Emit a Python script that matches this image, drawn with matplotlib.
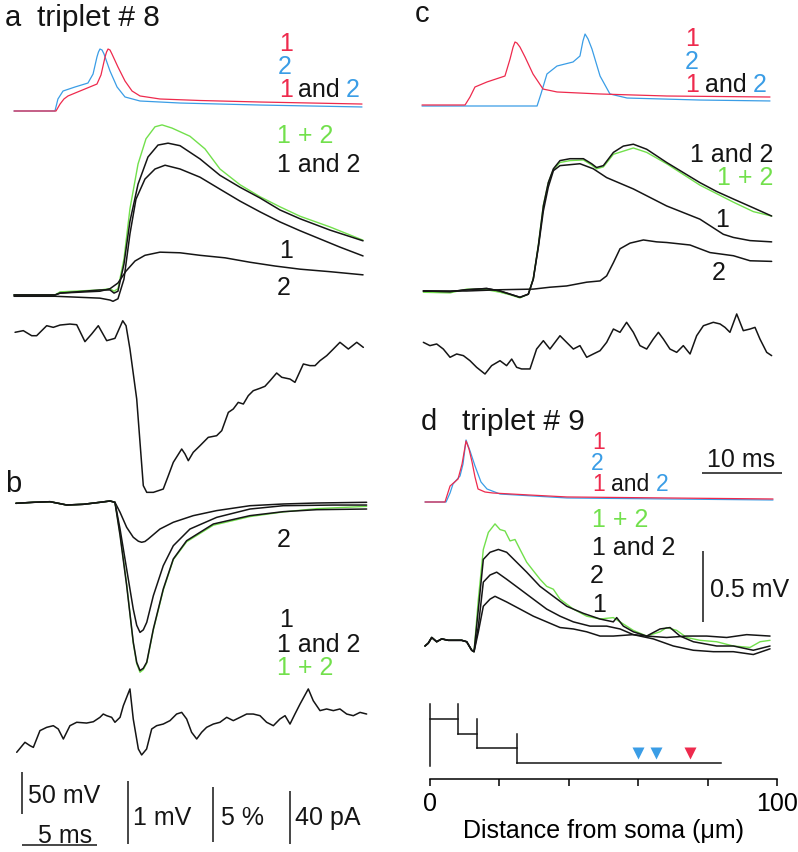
import matplotlib
matplotlib.use("Agg")
import matplotlib.pyplot as plt

plt.rcParams['font.family'] = ['Liberation Sans', 'DejaVu Sans']

# ---- datos ----
# tiempos en ms, potencial de accion en mV sobre el reposo, EPSP en mV,
# corrientes en pA, diferencias en %

# panel a: potenciales de accion
a_ap1_t = [0, 2.8, 3.07, 3.33, 3.6, 4.4, 5.53, 5.8, 6.07, 6.17, 6.27, 6.4, 6.53, 6.93, 7.4, 7.87, 8.4, 9.73, 12.4, 16.4, 23.2]
a_ap1_v = [0, 0, 8.3, 14.3, 17.9, 23.8, 32.1, 42.9, 64.3, 70.2, 73.8, 72.6, 67.9, 52.4, 35.7, 23.8, 17.9, 14.3, 12.5, 10.7, 8.3]
a_ap2_t = [0, 2.73, 2.93, 3.27, 4.07, 4.93, 5.27, 5.53, 5.63, 5.73, 5.87, 6.0, 6.4, 6.87, 7.4, 8.4, 11.07, 16.4, 23.2]
a_ap2_v = [0, 0, 14.3, 23.8, 28.6, 33.3, 44.0, 64.3, 70.2, 73.8, 72.6, 67.9, 47.6, 28.6, 16.7, 11.9, 9.5, 7.1, 4.8]

# panel a: EPSP
a_sum_t = [0, 2.73, 3.07, 5.73, 6.4, 6.67, 6.93, 7.33, 7.73, 8.27, 8.8, 9.4, 9.87, 10.53, 11.73, 12.73, 13.73, 15.07, 16.4, 17.73, 19.07, 21.07, 23.27]
a_sum_v = [0, 0, 0.05, 0.08, 0.10, 0.06, 0.10, 0.57, 1.37, 2.08, 2.48, 2.67, 2.70, 2.65, 2.52, 2.32, 2.00, 1.75, 1.56, 1.40, 1.25, 1.08, 0.87]
a_both_t = [0, 2.73, 3.07, 5.73, 6.4, 6.67, 6.93, 7.33, 7.73, 8.27, 8.93, 9.6, 10.27, 11.07, 12.4, 13.73, 15.07, 16.4, 17.73, 19.07, 21.07, 23.27]
a_both_v = [0, 0, 0.03, 0.08, 0.08, 0.03, 0.06, 0.49, 1.17, 1.76, 2.19, 2.38, 2.41, 2.37, 2.16, 1.90, 1.71, 1.54, 1.35, 1.21, 1.03, 0.86]
a_e1_t = [0, 2.73, 5.73, 6.4, 6.6, 6.93, 7.33, 7.73, 8.13, 8.73, 9.4, 10.07, 11.07, 12.4, 13.73, 15.07, 16.4, 17.73, 19.07, 20.4, 21.73, 23.27]
a_e1_v = [-0.02, -0.02, -0.05, -0.08, -0.10, -0.06, 0.25, 0.97, 1.52, 1.84, 2.0, 2.06, 2.0, 1.87, 1.68, 1.49, 1.32, 1.16, 1.02, 0.89, 0.76, 0.62]
a_e2_t = [0, 2.73, 3.07, 5.73, 6.4, 6.93, 7.47, 8.07, 8.73, 9.73, 11.07, 12.4, 14.07, 15.73, 17.4, 19.07, 21.07, 23.27]
a_e2_v = [0, 0, 0.03, 0.06, 0.10, 0.19, 0.38, 0.54, 0.63, 0.68, 0.67, 0.63, 0.59, 0.52, 0.46, 0.41, 0.37, 0.32]

# panel a: diferencia (%)
a_dif_t = [0.07, 0.62, 1.18, 1.51, 2.18, 2.62, 3.07, 3.73, 4.18, 4.73, 5.18, 5.62, 6.18, 6.73, 7.25, 7.47, 7.73, 8.18,
           8.62, 8.85, 9.29, 9.95, 10.29, 10.62, 11.18, 11.4, 11.62, 11.95, 12.4, 12.95, 13.51, 13.85, 14.29, 14.62,
           14.95, 15.29, 15.62, 15.95, 16.4, 16.73, 17.07, 17.51, 17.85, 18.4, 18.73, 19.29, 19.73, 20.07, 20.4,
           20.85, 21.29, 21.73, 22.29, 22.85, 23.29]
a_dif_v = [-0.30, -0.15, -0.61, -0.61, 0.30, 0.15, 0.36, 0.45, 0.39, -1.15, -0.45, 0.30, -1.06, -0.85, 0.75, 0.30, -1.82,
           -6.36, -14.24, -14.85, -14.85, -14.55, -13.33, -12.12, -10.91, -11.36, -11.97, -11.21, -10.61, -9.85,
           -9.7, -9.24, -7.58, -7.27, -6.67, -6.82, -6.06, -5.61, -5.39, -5.21, -4.7, -4.0, -4.39, -4.55, -4.85,
           -3.18, -3.33, -3.33, -2.88, -2.42, -1.82, -1.21, -1.82, -1.21, -1.67]

# panel b: corrientes (pA)
b_pre_t = [0.13, 1.29, 2.4, 2.95, 3.51, 4.62, 5.73, 6.4, 6.73]
b_pre_i = [-0.98, -0.23, 0.23, -0.98, -2.26, -1.74, -0.23, 0.75, -0.23]
b_c2_t = [7.07, 7.51, 7.95, 8.29, 8.51, 8.73, 8.95, 9.73, 10.62, 11.95, 13.51, 15.73, 17.95, 20.18, 23.51]
b_c2_i = [-7.77, -19.1, -26.6, -29.6, -30.4, -29.8, -27.9, -20.4, -15.3, -10.3, -6.5, -2.8, -1.5, -0.75, -0.23]
b_c1_t = [7.07, 7.51, 7.95, 8.18, 8.4, 8.62, 8.85, 9.29, 9.95, 10.62, 11.73, 13.51, 15.73, 17.95, 21.29, 23.51]
b_c1_i = [-20.4, -50.6, -80.8, -93.0, -98.4, -96.5, -90.8, -70.7, -48.1, -33.0, -20.4, -11.6, -5.3, -2.8, -2.3, -2.3]
b_both_t = [7.07, 7.51, 7.95, 8.18, 8.4, 8.62, 8.85, 9.29, 9.95, 10.62, 11.51, 13.29, 15.73, 17.95, 20.18, 23.51]
b_both_i = [-25.2, -63.0, -105.7, -121.0, -127.2, -125.5, -120.9, -95.8, -65.7, -43.0, -29.2, -16.6, -10.3, -7.3, -5.8, -5.3]
b_sum_i = [-24, -62, -106.5, -122.0, -128.5, -126.5, -121.5, -96.5, -66.5, -43.5, -30, -17.5, -11, -7.5, -5, -3.3]

# panel b: diferencia (%)
b_dif_t = [0.18, 0.73, 1.07, 1.29, 1.73, 2.18, 2.62, 2.95, 3.29, 3.73, 4.18, 4.84, 5.29, 5.73, 5.95, 6.18, 6.51, 6.73,
           7.07, 7.29, 7.73, 7.95, 8.29, 8.51, 8.84, 9.18, 9.51, 9.95, 10.4, 10.84, 11.18, 11.51, 11.84, 12.18,
           12.51, 12.84, 13.29, 13.73, 14.18, 14.62, 15.07, 15.51, 15.95, 16.4, 16.84, 17.29, 17.73, 18.07, 18.4,
           18.73, 19.07, 19.62, 19.95, 20.4, 20.84, 21.29, 21.73, 22.18, 22.62, 23.07, 23.51]
b_dif_v = [-1.21, -0.3, -0.61, -0.76, 0.76, 1.06, 1.21, 0.91, 0, 1.21, 1.52, 1.45, 1.57, 1.97, 2.27, 2.12, 1.97, 1.52,
           1.97, 3.03, 4.55, 1.82, -0.91, -1.45, -0.91, 0.91, 1.21, 1.36, 1.67, 2.27, 2.42, 1.82, 0.61, 0,
           0.61, 1.06, 1.36, 1.52, 1.97, 1.67, 1.97, 2.27, 2.27, 2.12, 1.52, 1.21, 1.82, 2.12, 1.36,
           2.27, 3.18, 4.55, 3.48, 2.58, 2.73, 2.58, 2.73, 2.27, 2.12, 2.42, 2.27]

# panel c: potenciales de accion
c_ap1_t = [0, 2.87, 3.2, 3.53, 4.33, 5.53, 5.87, 6.07, 6.2, 6.33, 6.53, 6.87, 7.4, 8.07, 9.0, 11.87, 16.33, 23.2]
c_ap1_v = [1.2, 1.2, 10.7, 22.6, 28.6, 35.7, 56.0, 70.0, 76.2, 75.0, 70.2, 58.3, 38.1, 20.2, 16.7, 14.3, 11.9, 10.7]
c_ap2_t = [0, 7.67, 7.93, 8.33, 9.0, 10.07, 10.53, 10.73, 10.87, 11.07, 11.33, 11.87, 12.53, 13.67, 18.53, 23.2]
c_ap2_v = [0, 0, 14.3, 38.1, 47.6, 52.4, 59.5, 77.4, 85.7, 79.8, 67.9, 35.7, 14.3, 9.5, 7.1, 6.0]

# panel c: EPSP
c_both_t = [0.09, 1.87, 2.98, 4.31, 5.2, 5.87, 6.53, 7.09, 7.42, 7.76, 8.09, 8.42, 8.76, 9.2, 9.87, 10.76, 11.31, 11.64,
            12.09, 12.76, 13.42, 14.09, 14.98, 16.31, 17.42, 18.53, 19.64, 20.76, 22.09, 23.31]
c_both_v = [0, -0.01, 0.02, 0.04, 0, -0.05, -0.10, -0.05, 0.19, 0.72, 1.35, 1.72, 1.94, 2.07, 2.10, 2.10, 2.02, 1.96,
            1.99, 2.2, 2.3, 2.33, 2.25, 2.04, 1.88, 1.72, 1.58, 1.46, 1.32, 1.19]
c_sum_t = [0.09, 1.87, 2.98, 4.31, 5.2, 5.87, 6.53, 7.09, 7.42, 7.76, 8.09, 8.42, 8.76, 9.2, 9.87, 10.76, 11.31, 11.64,
           12.09, 12.76, 14.09, 14.98, 16.31, 18.53, 20.76, 22.09, 23.31]
c_sum_v = [-0.02, -0.03, 0.03, 0.02, -0.02, -0.06, -0.11, -0.05, 0.2, 0.74, 1.36, 1.72, 1.93, 2.04, 2.07, 2.08, 2.0, 1.94,
           1.97, 2.17, 2.27, 2.2, 2.02, 1.68, 1.41, 1.26, 1.19]
c_e1_t = [0.09, 1.87, 2.98, 4.31, 5.2, 5.87, 6.53, 7.09, 7.42, 7.76, 8.09, 8.42, 8.76, 9.2, 10.53, 11.42, 12.31, 14.09,
          16.31, 18.53, 20.09, 20.76, 21.87, 23.31]
c_e1_v = [0, -0.01, 0.02, 0.04, 0, -0.05, -0.10, -0.05, 0.19, 0.70, 1.27, 1.65, 1.91, 1.99, 2.02, 1.94, 1.80, 1.62,
          1.35, 1.14, 0.90, 0.85, 0.80, 0.78]
c_e2_t = [0.09, 2.98, 5.2, 7.42, 8.53, 9.64, 10.98, 11.87, 12.31, 12.76, 13.2, 13.87, 14.76, 15.64, 16.31, 17.87, 18.53,
          19.2, 20.76, 21.87, 23.31]
c_e2_v = [0, 0, 0.02, 0.03, 0.06, 0.08, 0.14, 0.16, 0.24, 0.45, 0.67, 0.76, 0.81, 0.78, 0.77, 0.73, 0.67, 0.61, 0.56,
          0.48, 0.47]

# panel c: diferencia (%)
c_dif_t = [0.09, 0.53, 0.98, 1.42, 1.87, 2.31, 2.76, 3.2, 3.64, 4.2, 4.64, 5.2, 5.64, 5.98, 6.31, 6.64, 7.2, 7.64, 8.09,
           8.53, 9.2, 9.64, 10.09, 10.53, 10.98, 11.42, 11.87, 12.31, 12.76, 13.2, 13.64, 14.09, 14.53, 14.98, 15.42,
           15.76, 16.09, 16.53, 16.98, 17.42, 17.87, 18.31, 18.76, 19.42, 19.87, 20.2, 20.53, 20.98, 21.42, 21.87,
           22.2, 22.53, 22.98, 23.31]
c_dif_v = [-0.03, -0.33, -0.18, -0.64, -1.39, -1.09, -1.24, -1.7, -2.3, -2.91, -2.15, -1.7, -2.15, -1.55, -2.3, -2.45,
           -2.45, -0.64, 0.12, -0.64, 0.57, -0.03, -0.64, -0.33, -1.39, -1.09, -0.79, -0.03, 1.18, 0.88, 1.79, 0.88,
           -0.33, -0.64, 0.27, 0.88, 0.27, -0.64, -0.94, -0.33, -1.09, 0.57, 1.48, 1.79, 1.64, 1.33, 0.88, 2.55,
           1.03, 1.18, 1.33, 0.27, -0.94, -1.24]

# panel d: potenciales de accion
d_ap1_t = [0, 2.5, 3.13, 4.13, 4.63, 5.13, 5.5, 5.88, 6.25, 6.63, 7.5, 8.5, 13.13, 17.75, 30.25, 43.5]
d_ap1_v = [0, 0, 19.0, 27.4, 45.2, 72.6, 63.1, 47.6, 29.8, 15.5, 11.9, 10.7, 8.3, 6.0, 4.8, 3.6]
d_ap2_t = [0, 2.63, 3.13, 3.5, 4.38, 4.75, 5.13, 5.63, 6.25, 7.0, 7.75, 9.38, 17.75, 30.25, 43.5]
d_ap2_v = [0, 0, 10.7, 21.4, 31.0, 45.2, 73.8, 60.7, 42.9, 23.8, 15.5, 9.5, 4.8, 3.6, 2.4]

# panel d: EPSP
d_pre_t = [0, 0.41, 0.84, 1.46, 2.09, 2.91, 3.75, 4.59, 5.21, 5.84, 6.13]
d_pre_v = [0, 0.02, 0.06, 0.03, 0.05, 0.04, 0.04, 0.04, 0.03, -0.03, -0.04]
d_sum_t = [6.67, 7.29, 7.92, 8.75, 9.38, 10.0, 10.63, 11.25, 11.88, 12.71, 13.54, 14.38, 15.21, 16.04, 16.88, 18.54,
           20.21, 21.88, 23.54, 24.38, 26.04, 27.71, 29.38, 30.21, 31.46, 32.71, 34.38, 36.46, 38.54, 40.63, 41.88, 43.13]
d_sum_v = [0.33, 0.68, 0.80, 0.86, 0.82, 0.81, 0.74, 0.75, 0.68, 0.59, 0.53, 0.47, 0.42, 0.40, 0.33, 0.26,
           0.21, 0.19, 0.20, 0.17, 0.11, 0.07, 0.10, 0.13, 0.11, 0.06, 0.04, 0.03, 0.0, -0.01, 0.03, 0.04]
d_both_t = [6.67, 7.29, 8.13, 9.17, 10.21, 11.46, 12.71, 14.38, 16.04, 17.71, 19.79, 21.88, 23.54, 23.96, 24.79, 26.04,
            27.71, 29.38, 30.63, 31.88, 33.54, 36.46, 38.54, 41.04, 43.13]
d_both_v = [0.26, 0.61, 0.66, 0.68, 0.66, 0.59, 0.52, 0.42, 0.35, 0.28, 0.23, 0.19, 0.17, 0.20, 0.14, 0.10,
            0.07, 0.12, 0.13, 0.07, 0.03, 0.0, 0.0, -0.03, 0.0]
d_e2_t = [6.67, 7.29, 8.13, 8.96, 10.21, 11.88, 13.54, 15.21, 16.88, 18.54, 20.63, 22.71, 24.38, 26.04, 27.71, 30.21,
          32.71, 35.21, 37.71, 40.21, 43.13]
d_e2_v = [0.14, 0.45, 0.50, 0.52, 0.47, 0.40, 0.33, 0.26, 0.21, 0.17, 0.14, 0.14, 0.12, 0.08, 0.07, 0.06,
          0.07, 0.07, 0.06, 0.08, 0.07]
d_e1_t = [6.67, 7.29, 8.13, 8.75, 10.21, 11.88, 13.54, 15.21, 16.88, 18.54, 20.21, 21.88, 23.54, 26.04, 28.54, 31.04,
          33.54, 36.04, 38.54, 41.04, 43.13]
d_e1_v = [0.10, 0.28, 0.33, 0.35, 0.31, 0.26, 0.21, 0.17, 0.13, 0.12, 0.10, 0.07, 0.07, 0.08, 0.05, 0.0,
          -0.03, -0.04, -0.04, -0.06, -0.02]

# panel d: esquema del arbol dendritico (um)
rama_x = [0, 8, 13.5, 25]
punta_x = 84
rama_nivel = [3, 2, 1, 0]
sitios_azul = [60, 65]
sitios_rojo = [75]
dist_ticks = [0, 20, 40, 60, 80, 100]

ROJO = '#ee2a4d'
AZUL = '#3a9de6'
VERDE = '#72e04c'
NEGRO = '#151515'

W, H = 798, 853
fig = plt.figure(figsize=(W / 100, H / 100), dpi=100)


def capa(x0, y0, sx, sy):
    # ejes transparentes que cubren toda la figura; x0,y0 = origen en pixeles
    ax = fig.add_axes([0, 0, 1, 1])
    ax.set_xlim(-x0 / sx, (W - x0) / sx)
    ax.set_ylim((y0 - H) / sy, y0 / sy)
    ax.axis('off')
    ax.patch.set_alpha(0)
    ax.px = (x0, y0, sx, sy)
    return ax


def barra_v(ax, px, py, largo):
    x0, y0, sx, sy = ax.px
    t = (px - x0) / sx
    v = (y0 - py) / sy
    ax.plot([t, t], [v, v + largo], color=NEGRO, lw=1.1, solid_capstyle='butt')


def barra_h(ax, px, py, largo):
    x0, y0, sx, sy = ax.px
    t = (px - x0) / sx
    v = (y0 - py) / sy
    ax.plot([t, t + largo], [v, v], color=NEGRO, lw=1.1, solid_capstyle='butt')


def traza(ax, t, v, c=NEGRO, lw=1.1):
    ax.plot(t, v, color=c, lw=lw, solid_joinstyle='round', solid_capstyle='round')


# ---- panel a ----
ax = capa(14, 112, 15, 0.84)
traza(ax, a_ap2_t, a_ap2_v, AZUL, 0.9)
traza(ax, a_ap1_t, a_ap1_v, ROJO, 0.9)
barra_v(ax, 22, 815, 50)
barra_h(ax, 22, 846, 5)

ax = capa(14, 296, 15, 63)
traza(ax, a_sum_t, a_sum_v, VERDE, 1.0)
traza(ax, a_both_t, a_both_v)
traza(ax, a_e1_t, a_e1_v)
traza(ax, a_e2_t, a_e2_v)
barra_v(ax, 128, 845, 1)

ax = capa(14, 330, 15, 11)
traza(ax, a_dif_t, a_dif_v)
barra_v(ax, 213, 843, 5)

# ---- panel b ----
ax = capa(14, 503, 15, 1.325)
traza(ax, b_pre_t + b_c2_t, b_pre_i + b_c2_i)
traza(ax, b_pre_t + b_both_t, b_pre_i + b_sum_i, VERDE, 1.0)
traza(ax, b_pre_t + b_both_t, b_pre_i + b_both_i)
traza(ax, b_pre_t + b_c1_t, b_pre_i + b_c1_i)
barra_v(ax, 290, 845, 40)

ax = capa(14, 740, 15, 11)
traza(ax, b_dif_t, b_dif_v)

# ---- panel c ----
ax = capa(422, 107, 15, 0.84)
traza(ax, c_ap2_t, c_ap2_v, AZUL, 0.9)
traza(ax, c_ap1_t, c_ap1_v, ROJO, 0.9)

ax = capa(422, 292, 15, 63)
traza(ax, c_sum_t, c_sum_v, VERDE, 1.0)
traza(ax, c_both_t, c_both_v)
traza(ax, c_e1_t, c_e1_v)
traza(ax, c_e2_t, c_e2_v)

ax = capa(422, 343, 15, 11)
traza(ax, c_dif_t, c_dif_v)

# ---- panel d ----
ax = capa(425, 503, 8, 0.84)
traza(ax, d_ap2_t, d_ap2_v, AZUL, 0.9)
traza(ax, d_ap1_t, d_ap1_v, ROJO, 0.9)
barra_h(ax, 702, 474, 10)

ax = capa(425, 647, 8, 142)
traza(ax, d_pre_t + d_sum_t, d_pre_v + d_sum_v, VERDE, 1.0)
traza(ax, d_pre_t + d_both_t, d_pre_v + d_both_v)
traza(ax, d_pre_t + d_e2_t, d_pre_v + d_e2_v)
traza(ax, d_pre_t + d_e1_t, d_pre_v + d_e1_v)
barra_v(ax, 703, 623, 0.5)

# distancia desde el soma
axd = fig.add_axes([430 / W, (H - 780) / H, 347 / W, 80 / H])
axd.set_xlim(0, 100)
axd.set_ylim(-1.09, 4.35)
axd.patch.set_alpha(0)
for s in ['left', 'top', 'right']:
    axd.spines[s].set_visible(False)
axd.spines['bottom'].set_linewidth(1.1)
axd.set_yticks([])
axd.set_xticks(dist_ticks)
axd.set_xticklabels(['0', '', '', '', '', '100'])
axd.tick_params(axis='x', length=5, width=1.1, pad=4, labelsize=18)
axd.set_xlabel('Distance from soma (\u03bcm)', fontsize=18, labelpad=2)
axd.plot([0, 0], [-0.2, 4], color=NEGRO, lw=1.1, clip_on=False)
for k in range(len(rama_x)):
    fin = rama_x[k + 1] if k + 1 < len(rama_x) else punta_x
    axd.plot([rama_x[k], fin], [rama_nivel[k]] * 2, color=NEGRO, lw=1.1, clip_on=False)
    if k > 0:
        axd.plot([rama_x[k]] * 2, [rama_nivel[k], rama_nivel[k] + 2], color=NEGRO, lw=1.1, clip_on=False)
axd.plot(sitios_azul, [0.68] * len(sitios_azul), 'v', color=AZUL, ms=9, mec='none', clip_on=False)
axd.plot(sitios_rojo, [0.68] * len(sitios_rojo), 'v', color=ROJO, ms=9, mec='none', clip_on=False)

# ---- textos ----
tx = fig.add_axes([0, 0, 1, 1])
tx.set_xlim(0, W)
tx.set_ylim(H, 0)
tx.axis('off')
tx.patch.set_alpha(0)


def rotulo(x, y, s, c=NEGRO, size=18):
    tx.text(x, y, s, color=c, fontsize=size, ha='left', va='baseline')


rotulo(5, 26, 'a', size=21)
rotulo(37, 26, 'triplet # 8', size=21.5)
rotulo(279, 51, '1', ROJO)
rotulo(278, 74, '2', AZUL)
rotulo(279, 97, '1', ROJO)
rotulo(298, 97, 'and')
rotulo(346, 97, '2', AZUL)
rotulo(277, 143, '1 + 2', VERDE)
rotulo(277, 172, '1 and 2')
rotulo(279, 258, '1')
rotulo(277, 295, '2')

rotulo(5, 492, 'b', size=21)
rotulo(277, 547, '2')
rotulo(279, 627, '1')
rotulo(277, 652, '1 and 2')
rotulo(277, 675, '1 + 2', VERDE)

rotulo(28, 803, '50 mV')
rotulo(38, 843, '5 ms')
rotulo(133, 825, '1 mV')
rotulo(221, 825, '5 %')
rotulo(295, 825, '40 pA')

rotulo(415, 22, 'c', size=21)
rotulo(685, 46, '1', ROJO)
rotulo(685, 69, '2', AZUL)
rotulo(685, 92, '1', ROJO)
rotulo(705, 92, 'and')
rotulo(753, 92, '2', AZUL)
rotulo(690, 162, '1 and 2')
rotulo(717, 185, '1 + 2', VERDE)
rotulo(715, 227, '1')
rotulo(712, 280, '2')

rotulo(421, 430, 'd', size=21)
rotulo(462, 430, 'triplet # 9', size=21.5)
rotulo(592, 449, '1', ROJO, 16.5)
rotulo(591, 470, '2', AZUL, 16.5)
rotulo(592, 491, '1', ROJO, 16.5)
rotulo(611, 491, 'and', size=16.5)
rotulo(656, 491, '2', AZUL, 16.5)
rotulo(707, 467, '10 ms')
rotulo(592, 527, '1 + 2', VERDE)
rotulo(592, 555, '1 and 2')
rotulo(590, 583, '2')
rotulo(592, 612, '1')
rotulo(710, 597, '0.5 mV')

fig.savefig('out.png', dpi=100)
